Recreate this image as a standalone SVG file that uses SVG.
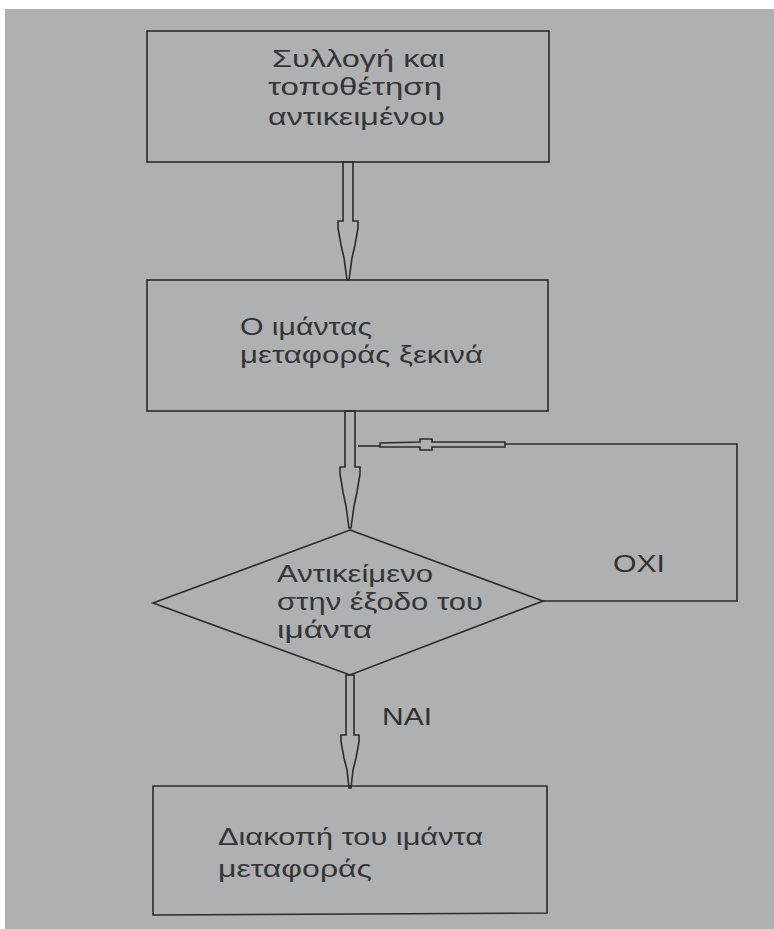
<svg xmlns="http://www.w3.org/2000/svg" width="774" height="929" viewBox="0 0 774 929">
<style>
.box{fill:none;stroke:#2b2b2b;stroke-width:1.6}
.con{fill:none;stroke:#2b2b2b;stroke-width:1.6;stroke-linejoin:miter}
.t{font-family:"Liberation Sans",Arial,sans-serif;font-size:23px;fill:#353537}
.lbl{font-family:"Liberation Sans",Arial,sans-serif;font-size:23px;fill:#353030}
</style>
<rect x="0" y="0" width="774" height="929" fill="#ffffff"/>
<rect x="5" y="9" width="769" height="920" fill="#afb0b1"/>

<g id="connectors">
  <polygon class="con" points="343,162 353,162 353,221 358,221 358,228 355,245 352,258 349,280 347,280 344,258 341,245 338,228 338,221 343,221"/>
  <polygon class="con" points="345,411 355,411 355,467 360,467 360,474 357,492 354,506 351,528 349,528 346,506 343,492 340,474 340,467 345,467"/>
  <polygon class="con" points="346,675 354,675 354,735 359,735 359,742 356,758 353,770 351,788 349,788 347,770 344,758 341,742 341,735 346,735"/>
  <polyline class="con" points="543,601 737,601 737,444 505,444"/>
  <polygon class="con" points="505,442 432,442 432,439 420,439 420,442 380,443 380,447 420,447 420,450 432,450 432,447 505,447"/>
  <line class="con" x1="358" y1="446" x2="380" y2="446"/>
</g>

<g id="n1">
  <rect class="box" x="147" y="31" width="402" height="131"/>
  <text class="t" x="272" y="67" textLength="173" lengthAdjust="spacingAndGlyphs">Συλλογή και</text>
  <text class="t" x="268" y="95" textLength="174" lengthAdjust="spacingAndGlyphs">τοποθέτηση</text>
  <text class="t" x="268" y="125" textLength="177" lengthAdjust="spacingAndGlyphs">αντικειμένου</text>
</g>

<g id="n2">
  <rect class="box" x="147" y="280" width="401" height="131"/>
  <text class="t" x="240" y="335" textLength="132" lengthAdjust="spacingAndGlyphs">Ο ιμάντας</text>
  <text class="t" x="240" y="363" textLength="243" lengthAdjust="spacingAndGlyphs">μεταφοράς ξεκινά</text>
</g>

<g id="n3">
  <polygon class="box" points="350,530 543,601 350,675 153,603"/>
  <text class="t" x="277" y="582" textLength="156" lengthAdjust="spacingAndGlyphs">Αντικείμενο</text>
  <text class="t" x="277" y="610" textLength="206" lengthAdjust="spacingAndGlyphs">στην έξοδο του</text>
  <text class="t" x="277" y="638" textLength="95" lengthAdjust="spacingAndGlyphs">ιμάντα</text>
</g>

<g id="n4">
  <polygon class="box" points="153,786 547,786 547,913 153,915"/>
  <text class="t" x="218" y="845" textLength="265" lengthAdjust="spacingAndGlyphs">Διακοπή του ιμάντα</text>
  <text class="t" x="218" y="877" textLength="154" lengthAdjust="spacingAndGlyphs">μεταφοράς</text>
</g>

<g id="labels">
  <text class="lbl" x="613" y="572" textLength="52" lengthAdjust="spacingAndGlyphs">ΟΧΙ</text>
  <text class="lbl" x="382" y="725" textLength="50" lengthAdjust="spacingAndGlyphs">ΝΑΙ</text>
</g>
</svg>
